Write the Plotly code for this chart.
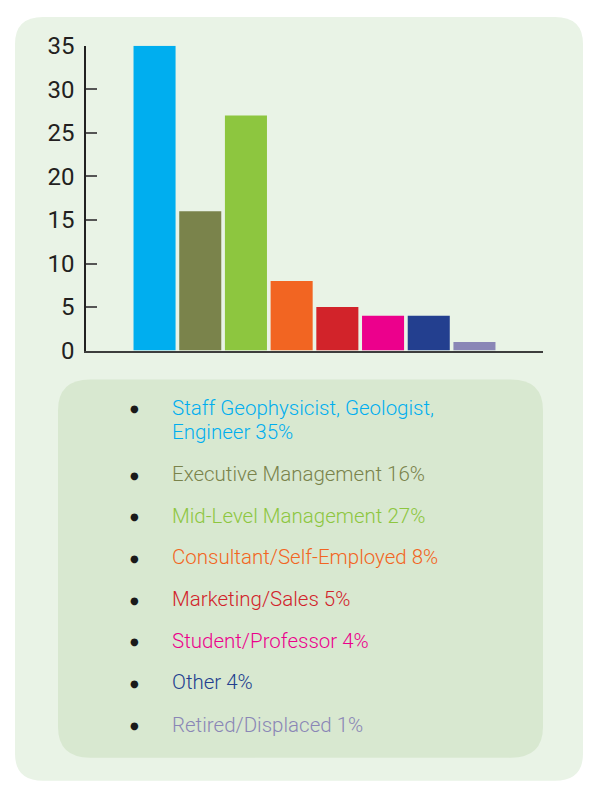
import plotly.graph_objects as go

categories = [
    "Staff Geophysicist, Geologist,<br>Engineer",
    "Executive Management",
    "Mid-Level Management",
    "Consultant/Self-Employed",
    "Marketing/Sales",
    "Student/Professor",
    "Other",
    "Retired/Displaced",
]
values = [35, 16, 27, 8, 5, 4, 4, 1]
colors = ["#00AEEF", "#7A834B", "#8DC63F", "#F26522", "#D2232A", "#EC008C", "#233F8F", "#8A86B6"]
y_ticks = [0, 5, 10, 15, 20, 25, 30, 35]

W, H = 589, 789


def px(x):
    return x / W


def py(y):
    return 1 - y / H


def rounded_rect(x0, y0, x1, y1, r):
    rx, ry = r / W, r / H
    X0, X1 = px(x0), px(x1)
    Y0, Y1 = py(y0), py(y1)
    return (
        f"M {X0+rx},{Y0} L {X1-rx},{Y0} Q {X1},{Y0} {X1},{Y0-ry} "
        f"L {X1},{Y1+ry} Q {X1},{Y1} {X1-rx},{Y1} "
        f"L {X0+rx},{Y1} Q {X0},{Y1} {X0},{Y1+ry} "
        f"L {X0},{Y0-ry} Q {X0},{Y0} {X0+rx},{Y0} Z"
    )


xpos = list(range(1, len(categories) + 1))

fig = go.Figure()
fig.add_trace(go.Bar(
    x=xpos, y=values, marker=dict(color=colors, line=dict(width=0)),
    hoverinfo="skip", showlegend=False,
))

shapes = [
    dict(type="path", xref="paper", yref="paper", path=rounded_rect(15, 3, 583, 795, 28),
         fillcolor="#E9F3E6", line=dict(width=0), layer="below"),
    dict(type="path", xref="paper", yref="paper", path=rounded_rect(58, 379, 543, 771, 32),
         fillcolor="#D8E8D0", line=dict(width=0), layer="below"),
]

line_y = [(408, 433), (477,), (520,), (563,), (607,), (650,), (693,), (737,)]
bullet_y = [409, 478, 521, 565, 608, 651, 694, 738]
annotations = []
for cat, val, col, ly, by in zip(categories, values, colors, line_y, bullet_y):
    label = f"{cat} {val}%"
    parts = label.split("<br>")
    for part, yy in zip(parts, ly):
        annotations.append(dict(
            x=px(170), y=py(yy), xref="paper", yref="paper", text=part, showarrow=False,
            xanchor="left", yanchor="middle",
            font=dict(family="Roboto", size=20.5, color=col, weight=300),
        ))
    annotations.append(dict(
        x=px(134), y=py(by), xref="paper", yref="paper", text="●", showarrow=False,
        xanchor="center", yanchor="middle",
        font=dict(family="DejaVu Sans", size=10, color="#1a1a1a"),
    ))

fig.update_layout(
    width=W, height=H, margin=dict(l=0, r=0, t=0, b=0),
    paper_bgcolor="white", plot_bgcolor="rgba(0,0,0,0)",
    bargap=0.08,
    shapes=shapes, annotations=annotations,
    xaxis=dict(domain=[px(86), px(543)], range=[-0.5, len(categories) + 1.5],
               showline=True, linecolor="#3d3d3d", linewidth=2,
               tickvals=[len(categories) + 1.5], ticks="inside", ticklen=8, tickwidth=2,
               tickcolor="#555", showticklabels=False, showgrid=False, zeroline=False,
               fixedrange=True),
    yaxis=dict(domain=[py(349), py(33)], range=[0, 35], tickvals=y_ticks,
               showline=True, linecolor="#222", linewidth=1.5,
               ticks="inside", ticklen=11, tickwidth=1.5, tickcolor="#555",
               showgrid=False, zeroline=False, ticklabelstandoff=5,
               tickfont=dict(family="Roboto", size=24, color="#231F20"),
               fixedrange=True),
)

fig.write_html(
    "out.html",
    config={"displayModeBar": False},
    post_script="document.body.style.margin='0';document.body.style.overflow='hidden';",
)
